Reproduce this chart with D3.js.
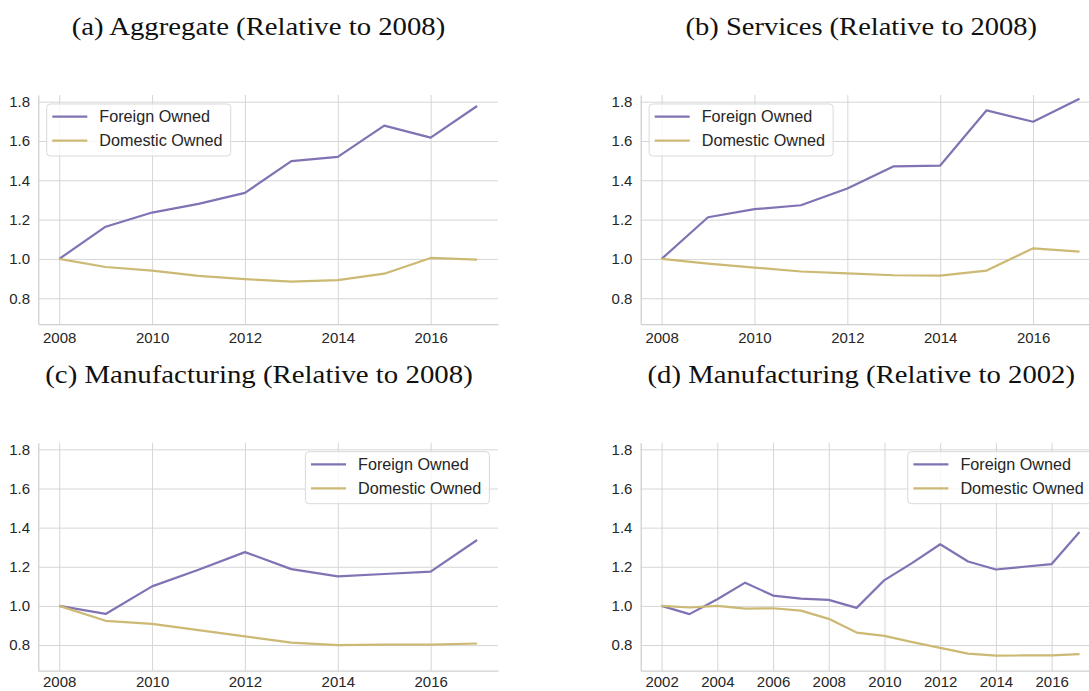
<!DOCTYPE html>
<html>
<head>
<meta charset="utf-8">
<script src="https://cdn.jsdelivr.net/npm/d3@7"></script>
<style>
  body { margin: 0; background: #fff; }
  svg { display: block; }
</style>
</head>
<body>
<svg id="chart" width="1089" height="691"></svg>
<script>
// Values (index, first year = 1.0)
const years2008 = [2008, 2009, 2010, 2011, 2012, 2013, 2014, 2015, 2016, 2017];
const years2002 = [2002, 2003, 2004, 2005, 2006, 2007, 2008, 2009, 2010, 2011, 2012, 2013, 2014, 2015, 2016, 2017];

const aggForeign   = [1.0, 1.164, 1.236, 1.280, 1.336, 1.498, 1.519, 1.678, 1.617, 1.778];
const aggDomestic  = [1.0, 0.959, 0.941, 0.914, 0.897, 0.885, 0.892, 0.925, 1.005, 0.997];

const servForeign  = [1.0, 1.212, 1.253, 1.273, 1.358, 1.471, 1.475, 1.756, 1.698, 1.815];
const servDomestic = [1.0, 0.976, 0.956, 0.936, 0.927, 0.917, 0.915, 0.941, 1.054, 1.037];

const manuForeign  = [1.0, 0.959, 1.100, 1.185, 1.275, 1.188, 1.151, 1.163, 1.175, 1.337];
const manuDomestic = [1.0, 0.924, 0.908, 0.876, 0.844, 0.812, 0.800, 0.802, 0.802, 0.808];

const manu02Foreign  = [1.0, 0.958, 1.034, 1.119, 1.053, 1.037, 1.031, 0.990, 1.132, 1.220, 1.315, 1.227, 1.186, 1.200, 1.214, 1.378];
const manu02Domestic = [1.0, 0.992, 1.000, 0.986, 0.988, 0.976, 0.934, 0.864, 0.847, 0.815, 0.786, 0.756, 0.746, 0.747, 0.747, 0.754];

const yTicks = [0.8, 1.0, 1.2, 1.4, 1.6, 1.8];
const xTicks2008 = [2008, 2010, 2012, 2014, 2016];
const xTicks2002 = [2002, 2004, 2006, 2008, 2010, 2012, 2014, 2016];

const seriesNames = ["Foreign Owned", "Domestic Owned"];
const titles = [
  "(a) Aggregate (Relative to 2008)",
  "(b) Services (Relative to 2008)",
  "(c) Manufacturing (Relative to 2008)",
  "(d) Manufacturing (Relative to 2002)"
];

const colors = ["#8172B3", "#CCB974"];
const gridColor = "#d6d6d6";
const textColor = "#262626";

const svg = d3.select("#chart");

// shared y range for all four panels (sharey)
const yDomain = [0.669, 1.834];

// panel boxes; right column runs past the image edge
// xPad = gap between bottom spine and year labels (bottom row a bit tighter so labels stay on the page)
const panels = [
  { x0: 38.3, x1: 498, y0: 95, y1: 324, years: years2008, ticks: xTicks2008, pad: 0.45, xPad: 8.6,
    foreign: aggForeign, domestic: aggDomestic, title: titles[0], tx: 258.5, tw: 373.6, legend: "left" },
  { x0: 640.7, x1: 1100.4, y0: 95, y1: 324, years: years2008, ticks: xTicks2008, pad: 0.45, xPad: 8.6,
    foreign: servForeign, domestic: servDomestic, title: titles[1], tx: 861.3, tw: 351.5, legend: "left" },
  { x0: 38.3, x1: 498, y0: 442.7, y1: 670.7, years: years2008, ticks: xTicks2008, pad: 0.45, xPad: 6,
    foreign: manuForeign, domestic: manuDomestic, title: titles[2], tx: 259, tw: 427.5, legend: "right" },
  { x0: 640.7, x1: 1100.4, y0: 442.7, y1: 670.7, years: years2002, ticks: xTicks2002, pad: 0.75, xPad: 6,
    foreign: manu02Foreign, domestic: manu02Domestic, title: titles[3], tx: 861.3, tw: 427.5, legend: "right" }
];

panels.forEach(p => {
  const w = p.x1 - p.x0;
  const h = p.y1 - p.y0;
  const first = p.years[0], last = p.years[p.years.length - 1];

  const x = d3.scaleLinear().domain([first - p.pad, last + p.pad]).range([0, w]);
  const y = d3.scaleLinear().domain(yDomain).range([h, 0]);

  const g = svg.append("g").attr("transform", `translate(${p.x0},${p.y0})`);

  // title above the panel (LaTeX-like serif)
  svg.append("text")
    .attr("x", p.tx)
    .attr("y", p.y0 - 60)
    .attr("text-anchor", "middle")
    .attr("font-family", "'Liberation Serif', 'DejaVu Serif', serif")
    .attr("font-size", 24.5)
    .attr("fill", "#111")
    .attr("textLength", p.tw)
    .attr("lengthAdjust", "spacingAndGlyphs")
    .text(p.title);

  // y axis: grid lines + labels, domain path is the left spine
  const yAxis = g.append("g")
    .call(d3.axisLeft(y).tickValues(yTicks).tickFormat(d3.format(".1f"))
      .tickSizeInner(-w).tickSizeOuter(0).tickPadding(8.3));

  // x axis: vertical grid lines + year labels, domain path is the bottom spine
  const xAxis = g.append("g")
    .attr("transform", `translate(0,${h})`)
    .call(d3.axisBottom(x).tickValues(p.ticks).tickFormat(d3.format("d"))
      .tickSizeInner(-h).tickSizeOuter(0).tickPadding(p.xPad));

  [yAxis, xAxis].forEach(a => {
    a.selectAll(".tick line").attr("stroke", gridColor).attr("stroke-width", 1);
    a.select(".domain").attr("stroke", "#cfcfcf").attr("stroke-width", 1.25);
    a.selectAll("text")
      .attr("fill", textColor)
      .attr("font-family", "'Liberation Sans', Arial, sans-serif")
      .attr("font-size", 15);
  });
  // spines drawn over grid lines
  yAxis.select(".domain").raise();
  xAxis.select(".domain").raise();

  // series lines
  const line = d3.line()
    .x((d, i) => x(p.years[i]))
    .y(d => y(d));

  [p.foreign, p.domestic].forEach((vals, k) => {
    g.append("path")
      .datum(vals)
      .attr("fill", "none")
      .attr("stroke", colors[k])
      .attr("stroke-width", 2.2)
      .attr("stroke-linejoin", "round")
      .attr("d", line);
  });

  // legend box (matplotlib-style rounded frame)
  const lw = 184, lh = 52;
  const lx = p.legend === "left" ? 8.4 : w - 8.6 - lw;
  const leg = g.append("g").attr("transform", `translate(${lx},9)`);
  leg.append("rect")
    .attr("width", lw).attr("height", lh)
    .attr("rx", 3.5)
    .attr("fill", "#fff").attr("fill-opacity", 0.8)
    .attr("stroke", "#d9d9d9").attr("stroke-width", 1);

  seriesNames.forEach((name, k) => {
    const ly = 12.7 + k * 24;
    leg.append("line")
      .attr("x1", 5.6).attr("x2", 40.6)
      .attr("y1", ly).attr("y2", ly)
      .attr("stroke", colors[k]).attr("stroke-width", 2.2);
    leg.append("text")
      .attr("x", 52.6).attr("y", ly)
      .attr("dy", "0.35em")
      .attr("fill", textColor)
      .attr("font-family", "'Liberation Sans', Arial, sans-serif")
      .attr("font-size", 16.2)
      .text(name);
  });
});
</script>
</body>
</html>
